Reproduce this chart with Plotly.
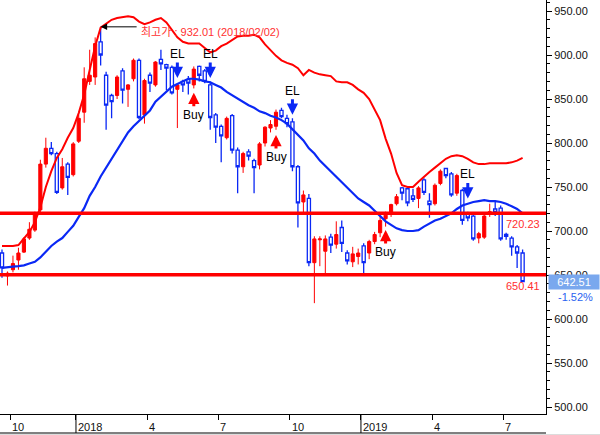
import pandas as pd
import plotly.graph_objects as go

# ---------------- data (weekly candles) ----------------
weeks = [d.strftime("%Y-%m-%d") for d in pd.date_range("2017-09-22", periods=97, freq="W-FRI")
         if d.strftime("%Y-%m-%d") != "2017-10-06"]

opens = [675, 649, 656, 667, 676, 692, 701, 724, 776, 794, 788, 749, 776, 764, 802, 835,
         870, 875, 915, 877, 854, 854, 882, 861, 873, 894, 832, 877, 866, 895, 889, 886,
         861, 870, 872, 866, 887, 882, 866, 832, 819, 806, 831, 792, 773, 790, 780, 775,
         800, 817, 819, 837, 828, 824, 773, 733, 737, 664, 690, 677, 693, 685, 704, 675,
         665, 671, 683, 675, 688, 698, 714, 720, 731, 749, 748, 740, 737, 758, 734, 731,
         754, 771, 765, 743, 746, 720, 717, 692, 693, 719, 725, 726, 696, 692, 682, 675]
highs = [679, 654, 672, 681, 693, 710, 722, 781, 806, 801, 790, 783, 778, 801, 832, 886,
         906, 920, 932.01, 881, 856, 877, 885, 867, 896, 896, 873, 880, 893, 906, 890, 888,
         868, 872, 876, 887, 888, 884, 870, 834, 821, 830, 833, 795, 790, 793, 782, 801,
         819, 826, 838, 840, 832, 828, 775, 746, 742, 694, 694, 695, 697, 711, 712, 678,
         682, 680, 686, 690, 699, 717, 722, 731, 742, 750, 750, 748, 751, 760, 743, 754,
         770, 772, 767, 765, 748, 722, 719, 699, 719, 731, 734, 729, 698, 694, 684, 679]
lows = [647, 638, 653, 656, 675, 690, 699, 720, 772, 786, 742, 747, 741, 762, 800, 823,
        866, 866, 888, 815, 828, 850, 845, 841, 870, 827, 822, 858, 864, 883, 860, 855,
        817, 858, 855, 862, 870, 868, 815, 800, 778, 804, 788, 743, 766, 780, 743, 770,
        796, 812, 815, 828, 818, 768, 704, 720, 660, 618, 660, 652, 675, 680, 676, 662,
        659, 662, 652, 668, 685, 693, 705, 716, 729, 735, 728, 733, 726, 741, 715, 729,
        752, 760, 739, 740, 707, 711, 689, 686, 691, 716, 717, 689, 690, 672, 658, 642]
closes = [658, 652, 663, 675, 691, 702, 720, 776, 794, 788, 744, 773, 761, 799, 828, 873,
          877, 913, 900, 843, 847, 875, 860, 866, 894, 829, 871, 868, 892, 890, 885, 857,
          866, 866, 868, 884, 877, 870, 829, 818, 808, 828, 792, 773, 788, 785, 772, 799,
          818, 821, 835, 830, 822, 773, 732, 741, 664, 691, 691, 691, 684, 696, 686, 666,
          674, 675, 664, 688, 696, 712, 718, 730, 739, 743, 732, 736, 749, 744, 730, 752,
          768, 763, 741, 763, 712, 715, 691, 697, 717, 722, 721, 691, 694, 682, 675, 642.51]

ma_line = [658, 659, 659.5, 660, 661, 663, 665, 670, 677, 683, 688, 692, 699, 706, 716, 726,
           740, 750, 762, 772, 783, 792, 803, 812, 819, 825, 830, 837, 847, 853, 859, 864,
           867, 870, 873, 873, 872, 870, 869, 866, 863, 858, 854, 850, 846, 843, 840, 836,
           834, 831, 829, 826, 822, 816, 809, 803, 794, 788, 780, 774, 767, 762, 756, 750,
           743, 737, 733, 729, 723, 717, 711, 707, 703, 701, 700, 700, 701, 705, 709, 712,
           714, 717, 720, 725, 729, 731, 733, 734, 735, 734, 734, 733, 731, 728, 725, 720]
upper_band = [683, 683, 683, 684, 691, 699, 710, 727, 750, 768, 783, 793, 806, 817, 834, 855,
              883, 910, 931, 935, 940, 942, 943, 944, 943, 938, 935, 937, 940, 942, 937, 928,
              920, 915, 913, 913, 913, 908, 903, 905, 910, 913, 917, 921, 922, 922, 923, 920,
              912, 905, 899, 894, 891, 889, 885, 877, 883, 880, 878, 877, 876, 870, 869, 869,
              866, 861, 857, 850, 838, 826, 805, 788, 766, 752, 750, 750, 756, 762, 767, 772,
              777, 782, 785, 786, 785, 782, 778, 776, 776, 777, 777, 777, 777, 778, 780, 783]

resistance = 720.23
support = 650.41
last_close = 642.51
change_pct = "-1.52%"
peak_week = 18
peak_price = 932.01
peak_text = "최고가 : 932.01 (2018/02/02)"

el_weeks = [32, 38, 53, 85]
el_levels = [874, 874, 832, 737]
buy_weeks = [35, 50, 70]
buy_levels = [857, 809, 701]

y_min, y_max = 492.05, 962.5

# ---------------- figure ----------------
FONT = "Liberation Sans, Arial, Noto Sans CJK KR, sans-serif"
RED = "#ff0000"
BLUE = "#0a28f5"
xs = list(range(len(weeks)))

fig = go.Figure()
fig.add_trace(go.Candlestick(
    x=xs, open=opens, high=highs, low=lows, close=closes,
    increasing=dict(line=dict(color=RED, width=1), fillcolor=RED),
    decreasing=dict(line=dict(color=BLUE, width=1.3), fillcolor="#ffffff"),
    whiskerwidth=0, showlegend=False, hoverinfo="skip"))
fig.add_trace(go.Scatter(x=xs, y=upper_band, mode="lines",
                         line=dict(color=RED, width=2), showlegend=False, hoverinfo="skip"))
fig.add_trace(go.Scatter(x=xs, y=ma_line, mode="lines",
                         line=dict(color=BLUE, width=2.2), showlegend=False, hoverinfo="skip"))

# horizontal levels
for lvl in (resistance, support):
    fig.add_shape(type="line", xref="paper", x0=0, x1=1, yref="y", y0=lvl, y1=lvl,
                  line=dict(color=RED, width=3.5), layer="above")
for lvl in (resistance, support):
    fig.add_annotation(xref="paper", x=1, yref="y", y=lvl, text=f"{lvl:.2f}",
                       showarrow=False, xanchor="right", yanchor="top", xshift=-4, yshift=-3,
                       font=dict(family=FONT, size=11, color="#ff3030"))

# x ticks derived from the weekly dates (quarter starts)
dts = pd.to_datetime(weeks)
tick_vals, tick_text = [], []
for i in range(1, len(dts)):
    if dts[i].month != dts[i - 1].month and dts[i].month in (1, 4, 7, 10):
        tick_vals.append(i - 0.5)
        tick_text.append(str(dts[i].year) if dts[i].month == 1 else str(dts[i].month))

for v, t in zip(tick_vals, tick_text):
    fig.add_annotation(xref="x", x=v, yref="paper", y=0, text=t, showarrow=False,
                       xanchor="left", yanchor="top", xshift=0, yshift=-5,
                       font=dict(family=FONT, size=11, color="#111111"))
    if len(t) == 4:
        fig.add_shape(type="line", xref="x", x0=v, x1=v, yref="paper", y0=0, y1=-19 / 414,
                      line=dict(color="black", width=1))

# bottom frame line and strip
fig.add_shape(type="line", xref="paper", x0=0, x1=1, yref="paper", y0=-19 / 414, y1=-19 / 414,
              line=dict(color="black", width=1))
fig.add_shape(type="rect", xref="paper", x0=0, x1=600 / 546, yref="paper",
              y0=-20 / 414, y1=-21.5 / 414, line=dict(width=0), fillcolor="#dcdcdc")

# peak annotation
fig.add_annotation(xref="x", x=peak_week, yref="y", y=peak_price, text=" ",
                   showarrow=True, ax=39, ay=0, arrowhead=2, arrowsize=1.3, arrowwidth=1,
                   arrowcolor="black", standoff=0)
fig.add_annotation(xref="x", x=peak_week, yref="y", y=peak_price, text=peak_text,
                   showarrow=False, xanchor="left", yanchor="middle", xshift=38, yshift=-5,
                   font=dict(family=FONT, size=11, color="#ff3030"))

# signals
for w, lv in zip(el_weeks, el_levels):
    fig.add_annotation(x=w, y=lv, text="EL", showarrow=True, ax=0, ay=-24,
                       arrowhead=2, arrowsize=0.75, arrowwidth=3, arrowcolor=BLUE,
                       standoff=0, font=dict(family=FONT, size=12, color="black"))
for w, lv in zip(buy_weeks, buy_levels):
    fig.add_annotation(x=w, y=lv, text="Buy", showarrow=True, ax=0, ay=22,
                       arrowhead=2, arrowsize=0.75, arrowwidth=3, arrowcolor=RED,
                       standoff=0, font=dict(family=FONT, size=12, color="black"))

# last price badge
fig.add_annotation(xref="paper", x=1, yref="y", y=last_close, text=f"{last_close:.2f}",
                   showarrow=False, xanchor="left", yanchor="middle", xshift=2,
                   width=48, align="center", bgcolor="#7aa8ee", borderpad=1,
                   font=dict(family=FONT, size=11, color="white"))
fig.add_annotation(xref="paper", x=1, yref="y", y=last_close, text=change_pct,
                   showarrow=False, xanchor="left", yanchor="middle", xshift=10, yshift=-15,
                   font=dict(family=FONT, size=11, color="#2a62f0"))

fig.update_layout(
    width=600, height=435,
    margin=dict(l=0, r=54, t=0, b=21),
    paper_bgcolor="white", plot_bgcolor="white",
    boxgap=0.18,
    font=dict(family=FONT, size=11, color="#111111"),
    xaxis=dict(range=[-0.365, 99.27], rangeslider=dict(visible=False),
               showline=True, linecolor="black", linewidth=1, mirror=False,
               ticks="outside", ticklen=5, tickcolor="black",
               tickmode="array", tickvals=tick_vals, showticklabels=False,
               showgrid=False, zeroline=False),
    yaxis=dict(side="right", range=[y_min, y_max], showline=True, linecolor="black",
               linewidth=1, ticks="outside", ticklen=5, tickcolor="black",
               tick0=0, dtick=50, tickformat=".2f",
               minor=dict(dtick=10, tick0=0, ticks="outside", ticklen=3, tickcolor="black",
                          showgrid=False),
               showgrid=False, zeroline=False,
               tickfont=dict(family=FONT, size=11, color="#111111")),
)

fig.write_html("out.html")
